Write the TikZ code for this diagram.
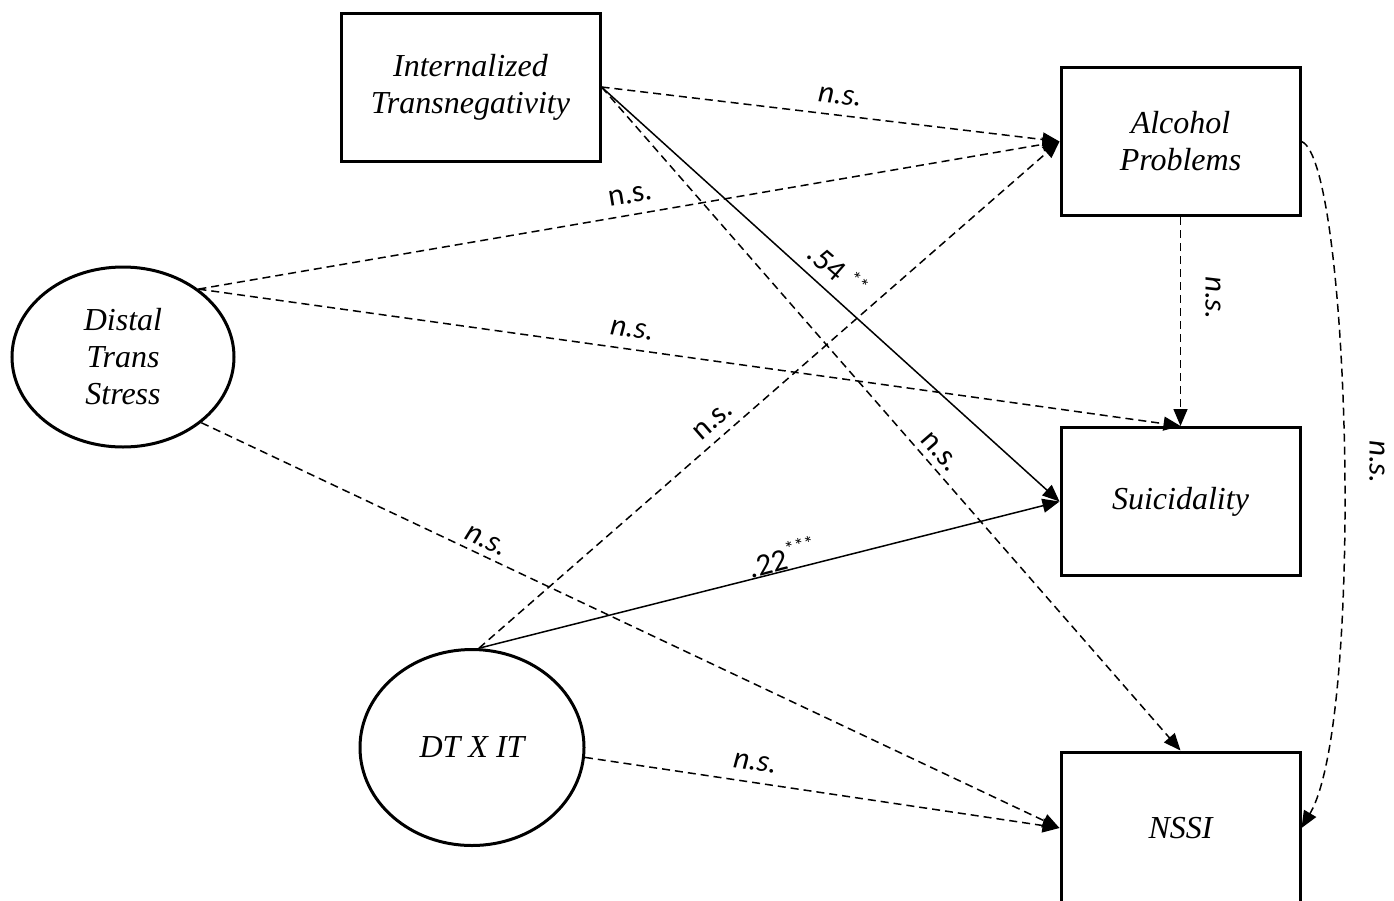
\documentclass[tikz,border=0pt]{standalone}
\usepackage{fontspec}
\setmainfont{Liberation Serif}
\newfontfamily\labfont{Carlito}
\usetikzlibrary{arrows.meta,shapes.geometric}
\begin{document}
\begin{tikzpicture}[x=1pt,y=-1pt,
  boxnode/.style={draw,line width=3pt,rectangle,minimum width=239pt,minimum height=148pt,inner sep=0pt,align=center,font=\fontsize{32}{37}\selectfont\itshape},
  ellnode/.style={draw,line width=3pt,ellipse,inner sep=0pt,align=center,font=\fontsize{32}{37}\selectfont\itshape},
  conn/.style={line width=1.5pt,-{Triangle[length=17pt,width=14pt]}},
  dconn/.style={conn,dash pattern=on 8pt off 5pt},
  lab/.style={font=\labfont\fontsize{31}{31}\selectfont,inner sep=1pt}
]
\useasboundingbox (0,0) rectangle (1394,900);
\fill[white] (0,0) rectangle (1394,900);

\node[boxnode,minimum width=259pt] (it) at (470.5,87) {Internalized\\Transnegativity};
\node[boxnode] (alc) at (1180.5,141.5) {Alcohol\\Problems};
\node[boxnode] (sui) at (1180.5,501.5) {Suicidality};
\node[boxnode,minimum height=152pt] (nssi) at (1180.5,828) {NSSI};
\node[ellnode,minimum width=222pt,minimum height=180pt] (dts) at (123,357) {Distal\\Trans\\Stress};
\node[ellnode,minimum width=224pt,minimum height=196pt] (dt) at (472,747.5) {DT X IT};

% connectors
\draw[dconn] (it.east) -- (alc.west);
\draw[conn] (it.east) -- (sui.west);
\draw[dconn] (it.east) -- (nssi.north);
\draw[dconn] (dts.42) -- (alc.west);
\draw[dconn] (dts.42) -- (sui.north);
\draw[dconn] (dts.-40) -- (nssi.west);
\draw[dconn] (dt.86) -- (alc.west);
\draw[conn] (dt.86) -- (sui.west);
\draw[dconn] (dt.-5) -- (nssi.west);
\draw[dconn] (alc.south) -- (sui.north);
\draw[dconn] (alc.east) .. controls (1350,160) and (1365,720) .. (nssi.east);

% labels
\node[lab,rotate=-6.7] (l1) at (840,97) {\textit{n.s.}};
\node[lab,rotate=9.5] (l2) at (630,196) {n.s.};
\node[lab,rotate=-41] (l3) at (838,270) {.54 \raisebox{9pt}{\fontsize{20}{20}\selectfont**}};
\node[lab,rotate=-8.3] (l4) at (632,330) {\textit{n.s.}};
\node[lab,rotate=41] (l5) at (713,421) {n.s.};
\node[lab,rotate=-49] (l6) at (940,452) {n.s.};
\node[lab,rotate=-25] (l7) at (486,541) {\textit{n.s.}};
\node[lab,rotate=14.3] (l8) at (782,557) {.22\raisebox{13pt}{\fontsize{20}{20}\selectfont***}};
\node[lab,rotate=-8.2] (l9) at (755,763) {\textit{n.s.}};
\node[lab,rotate=-90] (l10) at (1213,298) {\textit{n.s.}};
\node[lab,rotate=-90] (l11) at (1377,462) {\textit{n.s.}};
\end{tikzpicture}
\end{document}
